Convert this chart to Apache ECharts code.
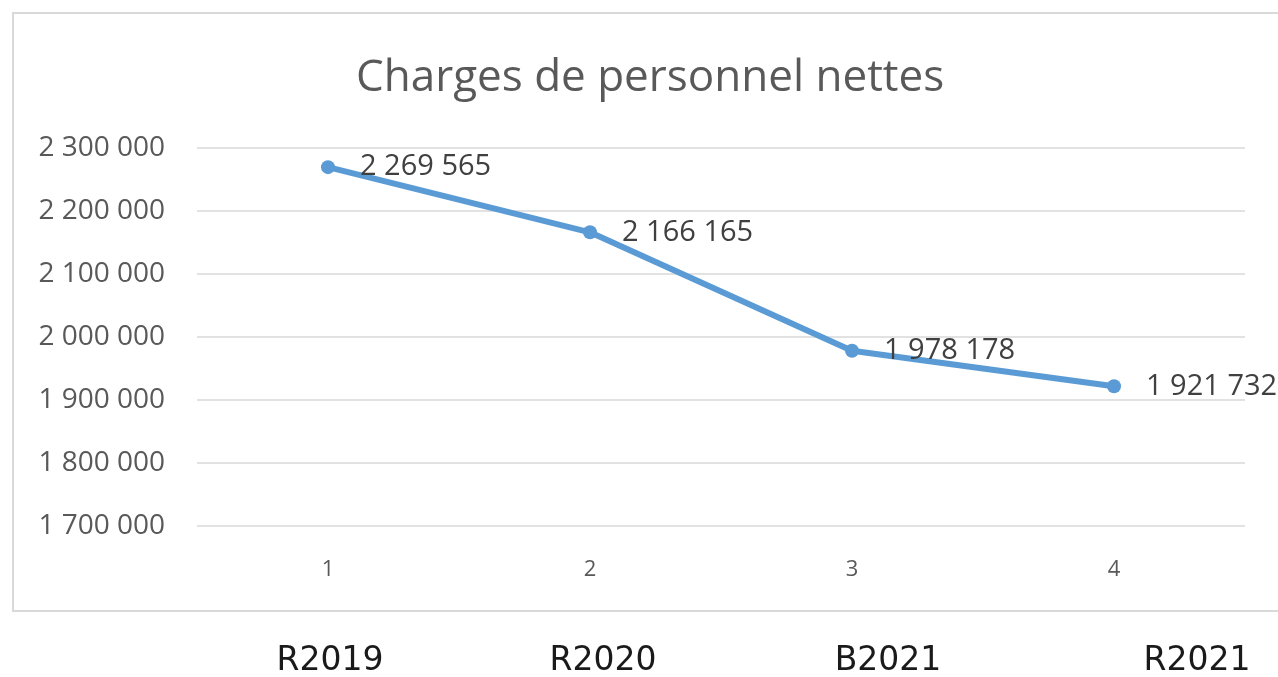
<!DOCTYPE html>
<html>
<head>
<meta charset="utf-8">
<script src="https://cdn.jsdelivr.net/npm/echarts@6/dist/echarts.min.js"></script>
<style>
  html, body { margin: 0; padding: 0; background: #fff; }
  #chart { width: 1278px; height: 677px; }
</style>
</head>
<body>
<div id="chart"></div>
<script>
// données
var categories = ['1', '2', '3', '4'];
var values = [2269565, 2166165, 1978178, 1921732];
var periodLabels = ['R2019', 'R2020', 'B2021', 'R2021'];
var periodX = [330, 603, 888, 1197];

function fmt(v) {
  return String(Math.round(v)).replace(/\B(?=(\d{3})+(?!\d))/g, ' ');
}

var chart = echarts.init(document.getElementById('chart'));

var graphics = [{
  type: 'rect',
  shape: { x: 13, y: 13, width: 1300, height: 598 },
  style: { fill: 'none', stroke: '#d9d9d9', lineWidth: 2 },
  silent: true
}];
periodLabels.forEach(function (t, i) {
  graphics.push({
    type: 'text',
    x: periodX[i],
    y: 661,
    style: {
      text: t,
      fill: '#1a1a1a',
      font: '33px "DejaVu Sans"',
      align: 'center',
      verticalAlign: 'middle'
    }
  });
});

var option = {
  backgroundColor: '#fff',
  title: {
    text: 'Charges de personnel nettes',
    left: 351,
    top: 51,
    textStyle: { color: '#595959', fontSize: 44, fontWeight: 'normal', fontFamily: 'Open Sans' }
  },
  grid: { left: 197, right: 33, top: 148, bottom: 151 },
  xAxis: {
    type: 'category',
    data: categories,
    boundaryGap: true,
    axisLine: { show: false },
    axisTick: { show: false },
    axisLabel: { color: '#595959', fontSize: 22, margin: 33, fontFamily: 'Open Sans' }
  },
  yAxis: {
    type: 'value',
    min: 1700000,
    max: 2300000,
    interval: 100000,
    axisLine: { show: false },
    axisTick: { show: false },
    splitLine: { lineStyle: { color: '#d9d9d9', width: 1.5 } },
    axisLabel: {
      color: '#595959', fontSize: 28, margin: 32, fontFamily: 'Open Sans',
      formatter: function (v) { return fmt(v); }
    }
  },
  series: [{
    type: 'line',
    data: values,
    symbol: 'circle',
    symbolSize: 14,
    lineStyle: { color: '#5b9bd5', width: 6 },
    itemStyle: { color: '#5b9bd5' },
    label: {
      show: true,
      position: 'right',
      distance: 25,
      color: '#404040',
      fontSize: 29,
      fontFamily: 'Open Sans',
      formatter: function (p) { return fmt(p.value); }
    },
    animation: false
  }],
  graphic: graphics,
  animation: false
};

chart.setOption(option);
</script>
</body>
</html>
